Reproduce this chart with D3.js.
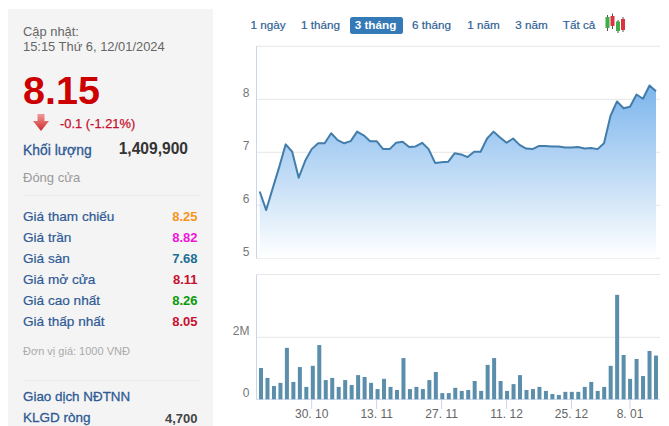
<!DOCTYPE html>
<html><head><meta charset="utf-8">
<script src="https://cdnjs.cloudflare.com/ajax/libs/d3/7.8.5/d3.min.js"></script>
<style>html,body{margin:0;padding:0;background:#fff;overflow:hidden}svg{display:block}text{font-family:"Liberation Sans",Arial,sans-serif}</style>
</head><body><svg id="c" width="669" height="426"></svg>
<script>
const prices=[6.26,5.91,6.32,6.72,7.15,7.01,6.52,6.84,7.06,7.17,7.17,7.36,7.23,7.17,7.21,7.39,7.32,7.21,7.21,7.06,7.06,7.18,7.20,7.10,7.11,7.18,7.06,6.80,6.81,6.82,6.98,6.96,6.91,7.01,7.01,7.26,7.39,7.28,7.18,7.26,7.14,7.07,7.06,7.12,7.12,7.11,7.11,7.09,7.09,7.10,7.07,7.08,7.06,7.17,7.69,7.96,7.83,7.86,8.09,8.01,8.26,8.15];
const volumes=[1.01,.69,.43,.53,1.66,.56,1.04,.40,1.08,1.75,.62,.69,.40,.62,.46,.78,.72,.53,.33,.66,.40,.30,1.33,.33,.40,.33,.62,.88,.20,.20,.37,.27,.30,.59,.27,1.11,1.33,.59,.27,.49,.78,.30,.33,.40,.27,.17,.14,.24,.24,.24,.40,.56,.27,.40,1.08,3.37,1.43,.66,1.30,.75,1.56,1.41];
const dateTickIndex=[8,18,28,38,48,57];
const dateTickLabels=["30. 10","13. 11","27. 11","11. 12","25. 12","8. 01"];
const priceTicks=[5,6,7,8];
const volumeTicks=[0,2];
const rangeButtons=["1 ngày","1 tháng","3 tháng","6 tháng","1 năm","3 năm","Tất cả"];
const rangeButtonX=[268,320.5,375.5,431.5,483.5,531.5,579];
const statLabels=["Giá tham chiếu","Giá trần","Giá sàn","Giá mở cửa","Giá cao nhất","Giá thấp nhất"];
const statValues=["8.25","8.82","7.68","8.11","8.26","8.05"];
const statColors=["#f7941d","#ee14d8","#1b6f94","#c8102e","#0a9a0a","#c8102e"];

const svg=d3.select("#c");
const defs=svg.append("defs");
const g=defs.append("linearGradient").attr("id","fill").attr("gradientUnits","userSpaceOnUse")
 .attr("x1",0).attr("x2",0).attr("y1",85).attr("y2",258);
g.append("stop").attr("offset",0).attr("stop-color","#7cb5ec");
g.append("stop").attr("offset",1).attr("stop-color","#ffffff");
const ag=defs.append("linearGradient").attr("id","arr").attr("x1",0).attr("x2",0).attr("y1",0).attr("y2",1);
ag.append("stop").attr("offset",0).attr("stop-color","#f09a9a");
ag.append("stop").attr("offset",1).attr("stop-color","#cf2a2a");

/* side panel */
svg.append("rect").attr("x",8).attr("y",9).attr("width",205).attr("height",417).attr("fill","#f4f4f4");
const blue="#2f5a94";
function t(x,y,s,size,fill,opt={}){return svg.append("text").attr("x",x).attr("y",y).text(s)
 .attr("font-size",size).attr("fill",fill).attr("font-weight",opt.b?"bold":"normal").attr("text-anchor",opt.a||"start");}
t(23,36,"Cập nhật:",12.9,"#666");
t(23,51,"15:15 Thứ 6, 12/01/2024",12.9,"#666");
t(23,104,"8.15",39.5,"#cc0000",{b:1});
t(60,128,"-0.1 (-1.21%)",12.9,"#c8102e").attr("stroke","#c8102e").attr("stroke-width",.25);
svg.append("path").attr("fill","url(#arr)")
 .attr("d",d3.line()([[37.5,114],[44.5,114],[44.5,121],[49,121],[41,131],[33,121],[37.5,121]])+"Z");
t(23,155,"Khối lượng",13.9,blue).attr("stroke",blue).attr("stroke-width",.3);
t(188,154,"1,409,900",15.6,"#333",{b:1,a:"end"});
t(23,182,"Đóng cửa",13,"#999");
svg.append("line").attr("x1",23).attr("x2",200).attr("y1",195.5).attr("y2",195.5).attr("stroke","#ebebeb");
statLabels.forEach((s,i)=>{const y=221+i*21;
 t(23,y,s,13.6,blue).attr("stroke",blue).attr("stroke-width",.2);
 t(197.5,y,statValues[i],13,statColors[i],{b:1,a:"end"});});
t(23,355,"Đơn vị giá: 1000 VNĐ",11,"#aaa");
svg.append("line").attr("x1",23).attr("x2",200).attr("y1",380.5).attr("y2",380.5).attr("stroke","#ebebeb");
t(23,401,"Giao dịch NĐTNN",13.4,blue).attr("stroke",blue).attr("stroke-width",.3);
t(23,422,"KLGD ròng",13.5,blue).attr("stroke",blue).attr("stroke-width",.3);
t(197.5,423,"4,700",13,"#444",{b:1,a:"end"});

/* range buttons */
svg.append("rect").attr("x",350).attr("y",17).attr("width",53).attr("height",17).attr("rx",2.5).attr("fill","#337ab7");
rangeButtons.forEach((s,i)=>t(rangeButtonX[i],29,s,11.7,i==2?"#fff":"#2f5f94",{b:i==2,a:"middle"})
  .attr("stroke",i==2?"none":"#2f5f94").attr("stroke-width",.2));
/* candlestick icon */
const candleX=[607.5,612.5,618,623];const candleTop=[15,13.5,20,17];const candleBot=[31,29,33,32];
const bodyTop=[17,16,21.5,19];const bodyBot=[28,26,31,30];const candleFill=["#3fae49","#d9343f","#3fae49","#d9343f"];
candleX.forEach((x,i)=>{
 svg.append("line").attr("x1",x).attr("x2",x).attr("y1",candleTop[i]).attr("y2",candleBot[i]).attr("stroke","#555");
 svg.append("rect").attr("x",x-2).attr("y",bodyTop[i]).attr("width",4).attr("height",bodyBot[i]-bodyTop[i]).attr("fill",candleFill[i]);
});

/* scales */
const xL=d3.scaleLinear().domain([0,prices.length-1]).range([259.7,656]);
const xB=d3.scaleLinear().domain([0,volumes.length-1]).range([261,656]);
const yP=d3.scaleLinear().domain([5,9]).range([258.3,46.3]);
const yV=d3.scaleLinear().domain([0,4]).range([399.3,275.3]);
const L=256.5,R=660;

/* top panel */
const grid="#e6e6e6",axisC="#ccd6eb";
[...priceTicks,9].forEach(v=>svg.append("line").attr("x1",L).attr("x2",R).attr("y1",yP(v)).attr("y2",yP(v)).attr("stroke",grid));
svg.append("line").attr("x1",L).attr("x2",L).attr("y1",46).attr("y2",258.5).attr("stroke",axisC);
svg.append("path").attr("fill","url(#fill)")
 .attr("d",d3.area().x((d,i)=>xL(i)).y0(yP(5)).y1(d=>yP(d))(prices));
svg.append("path").attr("fill","none").attr("stroke","#427dab").attr("stroke-width",2).attr("stroke-linejoin","round")
 .attr("d",d3.line().x((d,i)=>xL(i)).y(d=>yP(d))(prices));
priceTicks.forEach(v=>t(249.5,yP(v)-2,String(v),12,"#777",{a:"end"}));

/* bottom panel */
[...volumeTicks].forEach(v=>svg.append("line").attr("x1",L).attr("x2",R).attr("y1",yV(v)).attr("y2",yV(v)).attr("stroke",v==0?axisC:grid));
svg.append("line").attr("x1",L).attr("x2",R).attr("y1",274.5).attr("y2",274.5).attr("stroke",grid);
svg.append("line").attr("x1",L).attr("x2",L).attr("y1",274.5).attr("y2",399.5).attr("stroke",axisC);
svg.selectAll("rect.b").data(volumes).join("rect").attr("class","b")
 .attr("x",(d,i)=>xB(i)-2).attr("width",4).attr("y",d=>yV(d)).attr("height",d=>yV(0)-yV(d)).attr("fill","#5a8eab");
t(249.5,335,"2M",12,"#777",{a:"end"});
t(249.5,397,"0",12,"#777",{a:"end"});
dateTickIndex.forEach((idx,i)=>{const x=xL(idx);
 svg.append("line").attr("x1",x).attr("x2",x).attr("y1",399.5).attr("y2",409).attr("stroke",axisC);
 t(x,418,dateTickLabels[i],12,"#666",{a:"middle"});
});
</script></body></html>
